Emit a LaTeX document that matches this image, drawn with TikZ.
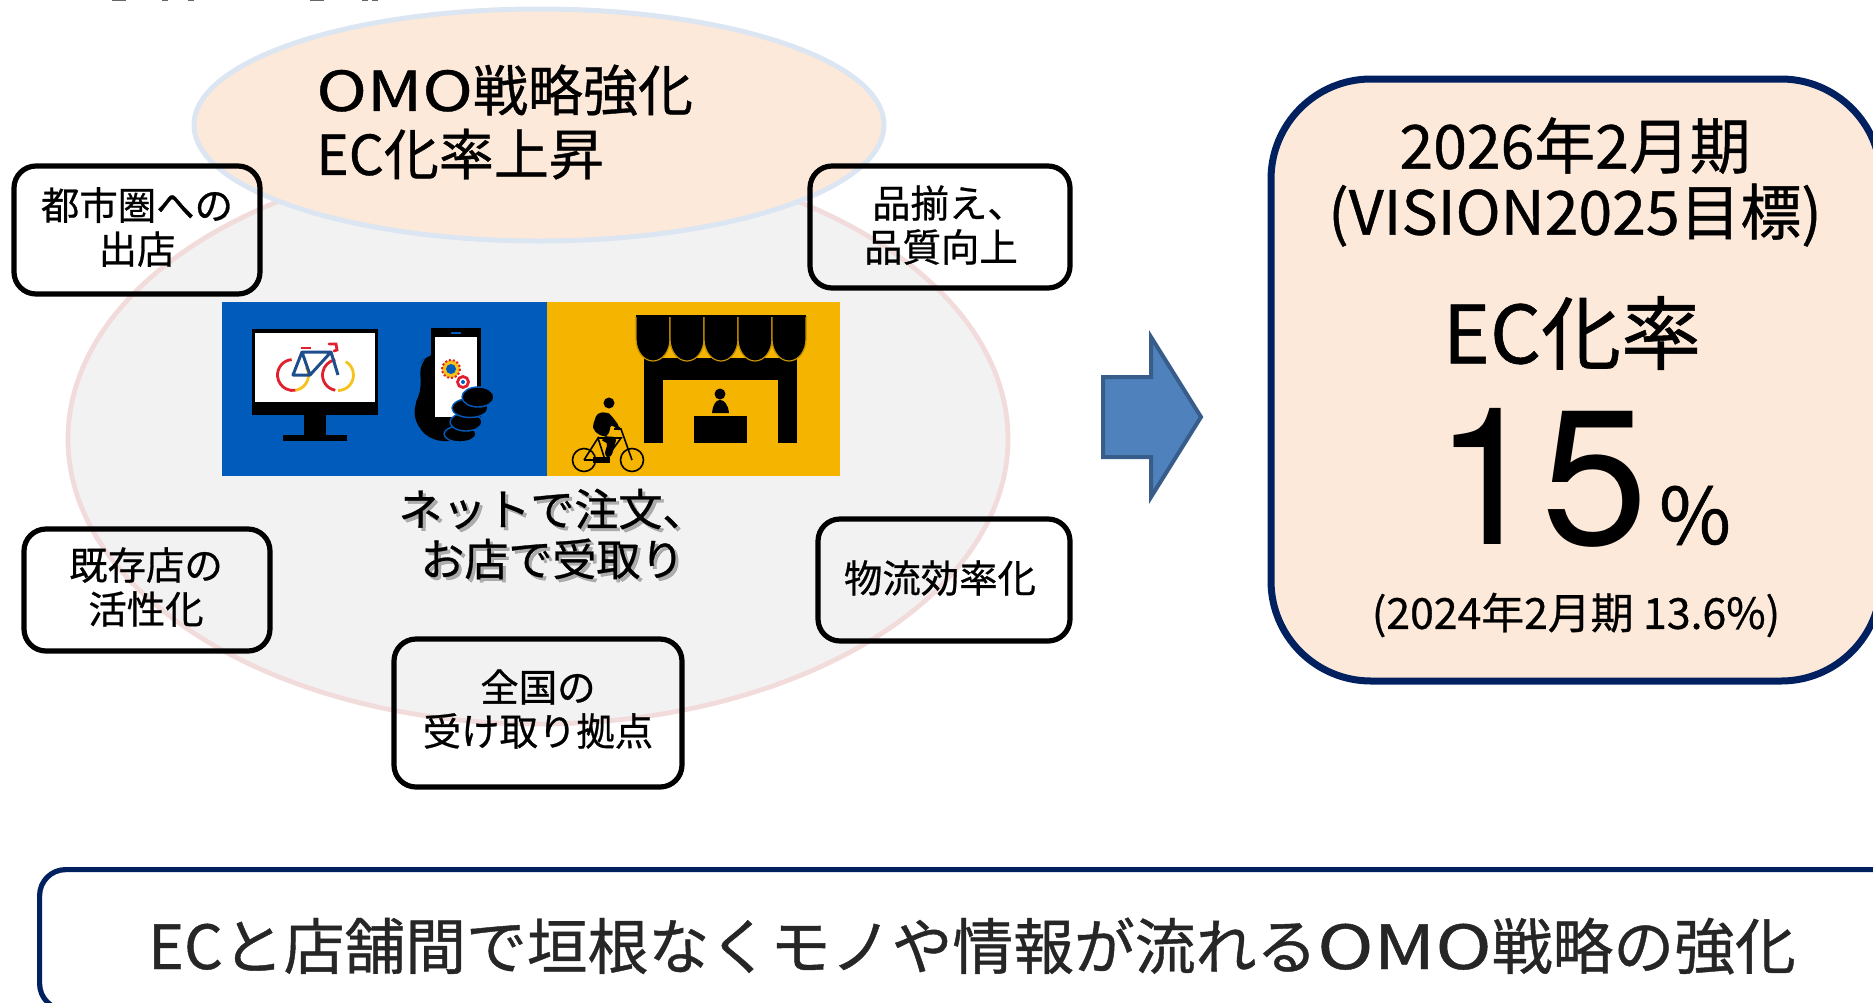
\documentclass[tikz,border=0pt]{standalone}
\usepackage{fontspec}
\setmainfont{Noto Sans CJK JP}[FakeBold=0.7]
\newfontfamily\numfont{TeX Gyre Heros}
\usetikzlibrary{shapes.geometric}

\definecolor{peach}{HTML}{FDE9D9}
\definecolor{navy}{HTML}{002060}
\definecolor{palegray}{HTML}{F2F2F2}
\definecolor{palepink}{HTML}{F2DCDB}
\definecolor{paleblue}{HTML}{DCE6F2}
\definecolor{arrowfill}{HTML}{4F81BD}
\definecolor{arrowline}{HTML}{385D8A}
\definecolor{netblue}{HTML}{005BBB}
\definecolor{shopyellow}{HTML}{F5B400}
\definecolor{bikered}{HTML}{E0202E}
\definecolor{bikegold}{HTML}{F6C21C}
\definecolor{bikeblue}{HTML}{1F4E8C}

\newcommand{\fs}[2]{\fontsize{#1}{#2}\selectfont}
\newcommand{\wide}[2]{\scalebox{#1}[1]{#2}}

\begin{document}
\begin{tikzpicture}[x=0.5pt, y=-0.5pt,
    oval/.style={ellipse, inner sep=0pt},
    tag/.style={draw=black, line width=2.6pt, rounded corners=11pt, inner sep=0pt},
    tagtext/.style={align=center, inner sep=0pt, font=\fs{19.2}{22}},
    bigtext/.style={inner sep=0pt, anchor=base}]

    \useasboundingbox (0,0) rectangle (1873,1002);
    \clip (0,0) rectangle (1873,1002);

    % Cut off title
    \foreach \xa/\xb in {112/126, 162/168, 188/194, 310/324, 362/368, 372/378}
      \draw[line width=1pt, black!60] (\xa,0) -- (\xb,0);

    % Ovals
    \node[oval, fill=palegray, draw=palepink, line width=2.4pt, minimum width=470pt, minimum height=285pt]
      (stage) at (538,439) {};
    \node[oval, fill=peach, draw=paleblue, line width=2.5pt, minimum width=345pt, minimum height=116pt]
      (omo) at (539,125) {};
    \node[align=left, inner sep=0pt, anchor=west, font=\fs{27.5}{32}] (omotext) at (316,122)
      {\wide{1.24}{OMO}戦略強化\\EC化率上昇};

    % Net and shop panels
    \fill[netblue] (222,302) rectangle (547,476);
    \fill[shopyellow] (547,302) rectangle (840,476);

    % Monitor
    \fill[black] (252,329) rectangle (378,415);
    \fill[white] (255,333) rectangle (375,402);
    \fill[black] (304,415) rectangle (326,435);
    \fill[black] (283,435) rectangle (347,441);

    % Bike on the monitor
    \begin{scope}[line width=1.4pt]
      \draw[bikered] (293,375) ++(265:15.5) arc[start angle=265, end angle=80, radius=15.5];
      \draw[bikegold] (293,375) ++(80:15.5) arc[start angle=80, end angle=-30, radius=15.5];
      \draw[bikered] (338,375) ++(100:15.5) arc[start angle=100, end angle=260, radius=15.5];
      \draw[bikegold] (338,375) ++(90:15.5) arc[start angle=90, end angle=-60, radius=15.5];
      \draw[bikeblue, line width=1.5pt, line join=round]
        (293,375) -- (302,352) -- (331,352) -- (310,375) -- cycle
        (302,352) -- (310,375) (331,352) -- (338,375);
      \draw[bikered] (301,348) -- (311,348);
      \draw[bikered, line cap=round] (329,344) -- (336,344) -- (337,350) -- (334,351);
    \end{scope}

    % Hand and phone
    \fill[black, rounded corners=5pt] (426,358) -- (420,362) -- (421,393) -- (413,407)
      -- (417,427) -- (433,441) -- (462,441) -- (470,410) -- (440,350) -- cycle;
    \fill[black] (431,328) rectangle (481,426);
    \fill[white] (435,337) rectangle (477,417);
    \draw[netblue, line width=0.8pt] (451,333) -- (461,333);
    \draw[bikered, line width=1pt, densely dotted, fill=bikegold] (451,369) circle (9);
    \fill[netblue] (451,369) circle (5);
    \draw[bikered, line width=1.4pt, fill=white] (463,382) circle (5.5);
    \fill[netblue] (463,382) circle (2);
    \foreach \cx/\cy/\rx/\ry in {460/434/16/8, 466/422/16/9, 470/408/18/9.5, 478/397/16/10}
      \draw[netblue, line width=0.7pt, fill=black] (\cx,\cy) ellipse [x radius=\rx, y radius=\ry];

    % Shop
    \fill[black] (644,358) rectangle (797,380);
    \fill[black] (644,380) rectangle (663,443);
    \fill[black] (778,380) rectangle (797,443);
    \foreach \n in {0,...,4}
      \filldraw[fill=black, draw=shopyellow!80!black, line width=0.6pt]
        ({636+34*\n},316) -- ({636+34*\n},339)
        arc[start angle=180, end angle=0, x radius=17, y radius=22]
        -- ({670+34*\n},316);
    \fill[black] (636,315) rectangle (806,317);
    \fill[black] (694,416) rectangle (747,443);
    \fill[black] (720,394) circle (5.5);
    \fill[black] (712,413) .. controls (713,404) and (716,400) .. (720,400)
      .. controls (724,400) and (728,404) .. (729,413) -- cycle;

    % Cyclist
    \fill[black] (609,403) circle (5.5);
    \fill[black, rounded corners=2pt] (607,412) -- (597,413) -- (592,428) -- (600,436)
      -- (617,437) -- (611,458) -- (604,456) -- (608,442) -- (600,441) -- (610,433) -- (610,424)
      -- (619,430) -- (620,427) -- (611,415) -- cycle;
    \fill[black] (593,457) rectangle (610,463);
    \begin{scope}[line width=0.8pt]
      \draw (584,460) circle (11.5);
      \draw (632,460) circle (11.5);
      \draw (584,460) -- (598,438) -- (605,460) -- (621,438) -- (598,438)
        (584,460) -- (605,460) (632,460) -- (621,429) -- (614,429);
    \end{scope}

    % Caption with its shadow
    \node[align=left, anchor=west, inner sep=0pt, font=\fs{22}{25}, text=black!50, opacity=0.6] (netshadow) at (401,537)
      {ネットで注文、\\\hspace*{11pt}お店で受取り};
    \node[align=left, anchor=west, inner sep=0pt, font=\fs{22}{25}] (nettext) at (398,534)
      {ネットで注文、\\\hspace*{11pt}お店で受取り};

    % Tags
    \node[tag, minimum width=123pt, minimum height=64pt] (city) at (137,230) {};
    \node[tagtext] (citytext) at (137,227) {都市圏への\\出店};
    \node[tag, minimum width=130pt, minimum height=61pt] (range) at (940,227) {};
    \node[tagtext] (rangetext) at (941,225) {\hspace*{8pt}品揃え、\\品質向上};
    \node[tag, minimum width=123pt, minimum height=61pt] (shops) at (147,590) {};
    \node[tagtext] (shopstext) at (146,587) {既存店の\\活性化};
    \node[tag, minimum width=126pt, minimum height=61pt] (logi) at (944,580) {};
    \node[tagtext] (logitext) at (940,578) {物流効率化};
    \node[tag, minimum width=144pt, minimum height=74pt] (pickup) at (538,713) {};
    \node[tagtext] (pickuptext) at (538,709) {全国の\\受け取り拠点};

    % Arrow
    \filldraw[fill=arrowfill, draw=arrowline, line width=2pt, line join=miter]
      (1103,377) -- (1151,377) -- (1151,337) -- (1201,417) -- (1151,497) -- (1151,457) -- (1103,457) -- cycle;

    % Target card
    \node[draw=navy, fill=peach, line width=3.5pt, rounded corners=50pt, inner sep=0pt,
      minimum width=305pt, minimum height=301pt] (goal) at (1576,380) {};
    \node[align=center, inner sep=0pt, font=\fs{30.4}{33}] (goaldate) at (1575,182)
      {2026年2月期\\(VISION2025目標)};
    \node[inner sep=0pt, font=\fs{40}{44}] (goalname) at (1572,333) {EC化率};
    \node[bigtext, font=\numfont\fs{96}{100}] (goalnum) at (1541,544) {15};
    \node[bigtext, font=\fs{39}{42}] (goalunit) at (1695,544) {\%};
    \node[inner sep=0pt, font=\fs{21.4}{24}] (goalold) at (1576,615) {(2024年2月期 13.6\%)};

    % Bottom banner
    \node[draw=navy, line width=2.6pt, rounded corners=13pt, inner sep=0pt, anchor=north west,
      minimum width=940pt, minimum height=70pt] (banner) at (37,867) {};
    \node[inner sep=0pt, text=black!85, font=\fs{30.4}{36}] (bannertext) at (972,946)
      {ECと店舗間で垣根なくモノや情報が流れる\wide{1.25}{OMO}戦略の強化};
\end{tikzpicture}
\end{document}
